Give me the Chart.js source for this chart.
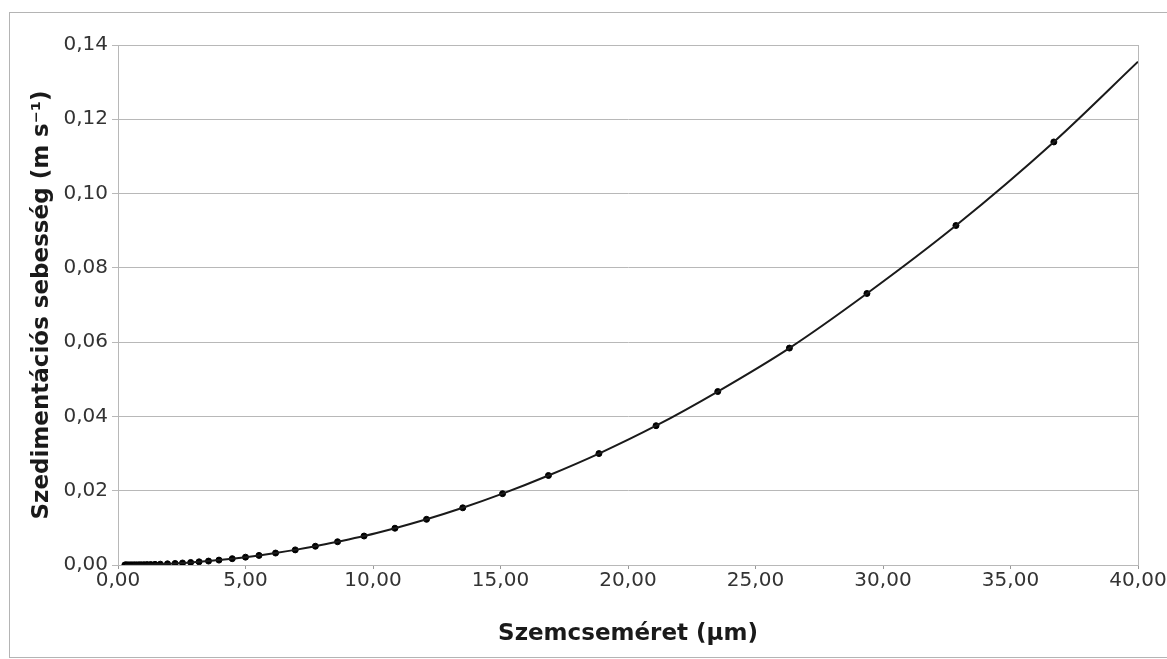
<!DOCTYPE html>
<html lang="hu">
<head>
    <meta charset="UTF-8">
    <title>Szedimentációs sebesség</title>
    <script src="https://cdn.jsdelivr.net/npm/chart.js"></script>
    <style>
        body {
            margin: 0;
            background: #fff;
            overflow: hidden;
        }
        #frame {
            position: absolute;
            left: 9px;
            top: 12px;
            width: 1170px;
            height: 644px;
            border: 1px solid #b4b4b4;
        }
        #chart-container {
            position: absolute;
            left: 0;
            top: 0;
            width: 1167px;
            height: 659px;
        }
    </style>
</head>
<body>
    <div id="frame"></div>
    <div id="chart-container">
        <canvas id="sedChart"></canvas>
    </div>

    <script>
        // particle size (µm) and settling velocity (m/s)
        const sizeUm = [0.27, 0.30, 0.33, 0.37, 0.42, 0.47, 0.52, 0.58, 0.65, 0.73, 0.82, 0.91,
            1.02, 1.14, 1.28, 1.45, 1.66, 1.94, 2.24, 2.53, 2.85, 3.18, 3.55, 3.96, 4.48, 5.00,
            5.53, 6.18, 6.95, 7.74, 8.61, 9.65, 10.86, 12.10, 13.52, 15.08, 16.88, 18.86, 21.10,
            23.52, 26.33, 29.37, 32.86, 36.70];
        const velocity = [0.00001, 0.00001, 0.00001, 0.00001, 0.00001, 0.00002, 0.00002, 0.00003,
            0.00004, 0.00004, 0.00006, 0.00007, 0.00009, 0.00011, 0.00014, 0.00018, 0.00023,
            0.00032, 0.00042, 0.00054, 0.00068, 0.00085, 0.00106, 0.00132, 0.00170, 0.00211,
            0.00258, 0.00322, 0.00407, 0.00505, 0.00626, 0.0078, 0.0099, 0.0123, 0.0154, 0.0192,
            0.0241, 0.0300, 0.0375, 0.0467, 0.0584, 0.0731, 0.0914, 0.1139];
        // the fitted curve runs on to the right edge of the plot
        const curveEndX = 40;
        const curveEndY = 0.1355;

        const xTicks = [0, 5, 10, 15, 20, 25, 30, 35, 40];
        const yTicks = [0, 0.02, 0.04, 0.06, 0.08, 0.10, 0.12, 0.14];

        const fmt = v => v.toFixed(2).replace('.', ',');

        const points = sizeUm.map((x, i) => ({ x: x, y: velocity[i] }));
        const curve = points.concat([{ x: curveEndX, y: curveEndY }]);

        // grey border round the plot area
        const plotBorder = {
            id: 'plotBorder',
            afterDraw(chart) {
                const { ctx, chartArea: a } = chart;
                ctx.save();
                ctx.strokeStyle = '#b8b8b8';
                ctx.lineWidth = 1;
                ctx.strokeRect(a.left + 0.5, a.top + 0.5, a.right - a.left, a.bottom - a.top);
                ctx.restore();
            }
        };

        const tickFont = { family: 'DejaVu Sans', size: 20 };
        const titleFont = { family: 'DejaVu Sans', size: 23, weight: 'bold' };

        const ctx = document.getElementById('sedChart').getContext('2d');
        new Chart(ctx, {
            type: 'scatter',
            data: {
                datasets: [
                    {
                        label: 'görbe',
                        data: curve,
                        showLine: true,
                        borderColor: '#1a1a1a',
                        borderWidth: 2,
                        pointRadius: 0,
                        cubicInterpolationMode: 'monotone',
                        fill: false,
                    },
                    {
                        label: 'mért',
                        data: points,
                        backgroundColor: '#000',
                        borderColor: '#000',
                        pointRadius: 3,
                        showLine: false,
                    }
                ]
            },
            options: {
                responsive: true,
                maintainAspectRatio: false,
                animation: false,
                layout: {
                    padding: { left: 26, top: 45, right: 29, bottom: 7 }
                },
                plugins: {
                    legend: { display: false },
                    tooltip: { enabled: false },
                },
                scales: {
                    x: {
                        type: 'linear',
                        min: 0,
                        max: 40,
                        afterBuildTicks: axis => { axis.ticks = xTicks.map(v => ({ value: v })); },
                        afterFit: axis => { axis.height = 87; },
                        grid: {
                            drawOnChartArea: false,
                            drawTicks: true,
                            tickLength: 4,
                            color: '#999',
                        },
                        border: { color: '#b8b8b8' },
                        ticks: {
                            callback: v => fmt(v),
                            color: '#333',
                            font: tickFont,
                            padding: 0,
                            maxRotation: 0,
                        },
                        title: {
                            display: true,
                            text: 'Szemcseméret (µm)',
                            color: '#1a1a1a',
                            font: titleFont,
                            padding: { top: 10 },
                        }
                    },
                    y: {
                        type: 'linear',
                        min: 0,
                        max: 0.14,
                        afterBuildTicks: axis => { axis.ticks = yTicks.map(v => ({ value: v })); },
                        afterFit: axis => { axis.width = 92; },
                        grid: {
                            color: '#b8b8b8',
                            tickLength: 6,
                        },
                        border: { color: '#b8b8b8' },
                        ticks: {
                            callback: v => fmt(v),
                            color: '#333',
                            font: tickFont,
                            padding: 4,
                        },
                        title: {
                            display: true,
                            text: 'Szedimentációs sebesség (m s⁻¹)',
                            color: '#1a1a1a',
                            font: titleFont,
                            padding: { top: 2, bottom: 2 },
                        }
                    }
                }
            },
            plugins: [plotBorder]
        });
    </script>
</body>
</html>
